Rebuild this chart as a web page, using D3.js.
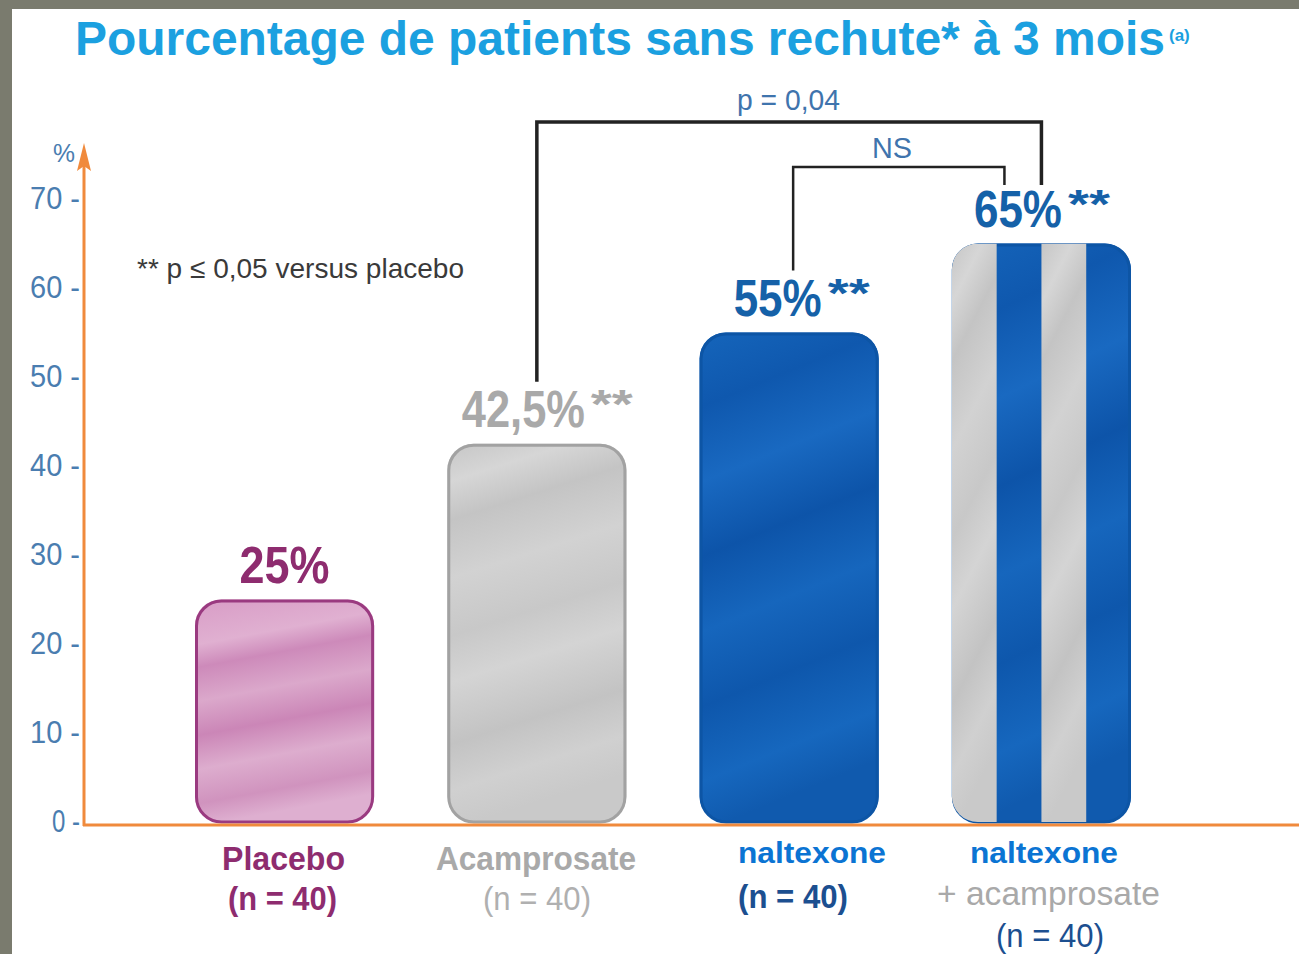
<!DOCTYPE html>
<html>
<head>
<meta charset="utf-8">
<script src="https://cdn.jsdelivr.net/npm/d3@7"></script>
<style>
  html, body { margin: 0; padding: 0; background: #fff; }
  svg { display: block; }
</style>
</head>
<body>
<script>
// chart data
var categories = ["Placebo", "Acamprosate", "naltexone", "naltexone + acamprosate"];
var values = [25, 42.5, 55, 65];
var valueLabels = ["25%", "42,5%", "55%", "65%"];
var signif = ["", "**", "**", "**"];
var catLine1 = ["Placebo", "Acamprosate", "naltexone", "naltexone"];
var catLine2 = ["(n = 40)", "(n = 40)", "(n = 40)", "+ acamprosate"];
var catLine3 = ["", "", "", "(n = 40)"];
var yTicks = [0, 10, 20, 30, 40, 50, 60, 70];

var W = 1299, H = 954;
var FONT = "Liberation Sans, Arial, sans-serif";

var svg = d3.select("body").append("svg")
    .attr("width", W)
    .attr("height", H);

// grey frame of the scanned slide
svg.append("rect").attr("x", 0).attr("y", 0).attr("width", W).attr("height", 9).attr("fill", "#7a7b6e");
svg.append("rect").attr("x", 0).attr("y", 0).attr("width", 12).attr("height", H).attr("fill", "#7a7b6e");

// scales
var y = d3.scaleLinear().domain([0, 70]).range([822, 199]);
var x = d3.scaleBand().domain(categories).range([195, 1131]).paddingInner(0.29).paddingOuter(0);

// gradients to fake the marbled fills
var defs = svg.append("defs");
function streaks(id, stops) {
  var g = defs.append("linearGradient").attr("id", id)
      .attr("x1", 0).attr("y1", 0).attr("x2", 0.15).attr("y2", 1);
  stops.forEach(function(s) {
    g.append("stop").attr("offset", s[0]).attr("stop-color", s[1]);
  });
}
streaks("gPink", [[0, "#d89cc6"], [0.2, "#e0b0d1"], [0.3, "#cd8aba"], [0.45, "#dba8cb"], [0.6, "#cb86b7"], [0.75, "#ddadce"], [0.9, "#d093be"], [1, "#deafd0"]]);
streaks("gGrey", [[0, "#c6c6c6"], [0.1, "#d6d6d6"], [0.2, "#c4c4c4"], [0.35, "#d2d2d2"], [0.5, "#c8c8c8"], [0.62, "#d4d4d4"], [0.78, "#c3c3c3"], [0.9, "#d0d0d0"], [1, "#c9c9c9"]]);
streaks("gBlue", [[0, "#1565bb"], [0.15, "#0f58ae"], [0.3, "#1969c1"], [0.45, "#0d54a9"], [0.6, "#1666bd"], [0.75, "#0e57ac"], [0.9, "#1667be"], [1, "#105aae"]]);

var fills = ["url(#gPink)", "url(#gGrey)", "url(#gBlue)", "url(#gBlue)"];
var strokes = ["#9a3a80", "#a2a2a2", "#0d55a5", "#0d55a5"];
var labelColors = ["#8e2c6f", "#a9a9a9", "#1561a8", "#1561a8"];

// bars
var bars = svg.selectAll("g.bar")
    .data(categories)
  .enter().append("g")
    .attr("class", "bar");

defs.append("clipPath")
    .attr("id", "clipCombo")
  .append("rect")
    .attr("x", x(categories[3]))
    .attr("y", y(values[3]))
    .attr("width", x.bandwidth())
    .attr("height", y(0) - y(values[3]))
    .attr("rx", 26);

bars.append("rect")
    .attr("x", function(d) { return x(d); })
    .attr("y", function(d, i) { return y(values[i]); })
    .attr("width", x.bandwidth())
    .attr("height", function(d, i) { return y(0) - y(values[i]); })
    .attr("rx", 26)
    .attr("fill", function(d, i) { return fills[i]; });

// grey stripes for the combination bar
var q = x.bandwidth() / 4;
[0, 2].forEach(function(k) {
  svg.append("rect")
      .attr("clip-path", "url(#clipCombo)")
      .attr("x", x(categories[3]) + k * q)
      .attr("y", y(values[3]))
      .attr("width", q)
      .attr("height", y(0) - y(values[3]))
      .attr("fill", "url(#gGrey)");
});

bars.append("rect")
    .attr("x", function(d) { return x(d) + 1.5; })
    .attr("y", function(d, i) { return y(values[i]) + 1.5; })
    .attr("width", x.bandwidth() - 3)
    .attr("height", function(d, i) { return y(0) - y(values[i]) - 1.5; })
    .attr("rx", 25)
    .attr("fill", "none")
    .attr("stroke", function(d, i) { return strokes[i]; })
    .attr("stroke-width", 3);

// axes (orange)
var axisColor = "#f08a3c";
svg.append("line")
    .attr("x1", 83).attr("x2", W)
    .attr("y1", y(0) + 3).attr("y2", y(0) + 3)
    .attr("stroke", axisColor).attr("stroke-width", 3);
svg.append("line")
    .attr("x1", 84).attr("x2", 84)
    .attr("y1", y(0) + 4).attr("y2", 160)
    .attr("stroke", axisColor).attr("stroke-width", 3);
svg.append("path")
    .attr("d", "M84,143 L77,171 L84,166 L91,171 Z")
    .attr("fill", axisColor);

var yAxis = svg.append("g")
    .attr("transform", "translate(80,0)")
    .call(d3.axisLeft(y).tickValues(yTicks).tickSize(0).tickPadding(0)
      .tickFormat(function(d) { return d + " -"; }));
yAxis.select(".domain").remove();
yAxis.selectAll("text")
    .attr("font-family", FONT)
    .attr("font-size", 31)
    .attr("fill", "#4a7db0")
    .attr("textLength", function(d) { return d == 0 ? 28 : 50; })
    .attr("lengthAdjust", "spacingAndGlyphs");

svg.append("text")
    .attr("x", 53).attr("y", 162)
    .attr("font-family", FONT)
    .attr("font-size", 26)
    .attr("fill", "#4a7db0")
    .attr("textLength", 22)
    .attr("lengthAdjust", "spacingAndGlyphs")
    .text("%");

// title
svg.append("text")
    .attr("x", 75).attr("y", 55)
    .attr("font-family", FONT)
    .attr("font-weight", "bold")
    .attr("font-size", 48)
    .attr("fill", "#1ba0e0")
    .attr("textLength", 1090)
    .attr("lengthAdjust", "spacingAndGlyphs")
    .text("Pourcentage de patients sans rechute* à 3 mois");
svg.append("text")
    .attr("x", 1169).attr("y", 41)
    .attr("font-family", FONT)
    .attr("font-weight", "bold")
    .attr("font-size", 17)
    .attr("fill", "#1ba0e0")
    .text("(a)");

// footnote
svg.append("text")
    .attr("x", 137).attr("y", 278)
    .attr("font-family", FONT)
    .attr("font-size", 28)
    .attr("fill", "#3a3a3a")
    .attr("textLength", 327)
    .attr("lengthAdjust", "spacingAndGlyphs")
    .text("** p ≤ 0,05 versus placebo");

// condensed text: squeeze horizontally with a transform so its box is the real width
function squeeze(sel, px, py, width) {
  var w = sel.node().getComputedTextLength();
  sel.attr("transform", "translate(" + px + "," + py + ") scale(" + (width / w) + ",1)");
}

// value labels: main number then the raised "**" marker
var mainW = [90, 123, 88, 88];
var starW = 42;
var labelShift = [0, 10, 12, 0];
function labelStart(i) {
  var total = mainW[i] + (signif[i] ? starW + 5 : 0);
  return x(categories[i]) + x.bandwidth() / 2 - total / 2 + labelShift[i];
}
categories.forEach(function(c, i) {
  var t = svg.append("text")
      .attr("class", "vlab")
      .attr("font-family", FONT)
      .attr("font-weight", "bold")
      .attr("font-size", 52)
      .attr("fill", labelColors[i])
      .text(valueLabels[i]);
  squeeze(t, labelStart(i), y(values[i]) - 17, mainW[i]);
  if (signif[i]) {
    var s = svg.append("text")
        .attr("class", "vstar")
        .attr("font-family", FONT)
        .attr("font-weight", "bold")
        .attr("font-size", 40)
        .attr("fill", labelColors[i])
        .text(signif[i]);
    squeeze(s, labelStart(i) + mainW[i] + 6, y(values[i]) - 26, starW);
  }
});

// significance brackets
function cx(i) { return x(categories[i]) + x.bandwidth() / 2; }
svg.append("path")
    .attr("d", "M" + cx(1) + "," + (y(values[1]) - 62) + " V122 H" + cx(3) + " V185")
    .attr("fill", "none")
    .attr("stroke", "#222")
    .attr("stroke-width", 3.5);
svg.append("path")
    .attr("d", "M" + (cx(2) + 4) + "," + (y(values[2]) - 62) + " V167 H" + (cx(3) - 37) + " V185")
    .attr("fill", "none")
    .attr("stroke", "#222")
    .attr("stroke-width", 2.5);
svg.append("text")
    .attr("x", 737).attr("y", 110)
    .attr("font-family", FONT)
    .attr("font-size", 30)
    .attr("fill", "#3f74ad")
    .attr("textLength", 103)
    .attr("lengthAdjust", "spacingAndGlyphs")
    .text("p = 0,04");
svg.append("text")
    .attr("x", 872).attr("y", 158)
    .attr("font-family", FONT)
    .attr("font-size", 30)
    .attr("fill", "#3f74ad")
    .attr("textLength", 40)
    .attr("lengthAdjust", "spacingAndGlyphs")
    .text("NS");

// category labels
var catColors1 = ["#8e2c6f", "#a9a9a9", "#0b74d3", "#0b74d3"];
var catColors2 = ["#8e2c6f", "#b0b0b0", "#1c4f90", "#a9a9a9"];
var line1 = [
  {x: 222, y: 870, w: 123, size: 34},
  {x: 436, y: 870, w: 200, size: 34},
  {x: 738, y: 863, w: 148, size: 30},
  {x: 970, y: 863, w: 148, size: 30}
];
var line2 = [
  {x: 228, y: 910, w: 109}, {x: 483, y: 910, w: 108},
  {x: 738, y: 908, w: 110}, {x: 937, y: 905, w: 223}
];
categories.forEach(function(c, i) {
  svg.append("text")
      .attr("x", line1[i].x).attr("y", line1[i].y)
      .attr("font-family", FONT)
      .attr("font-weight", "bold")
      .attr("font-size", line1[i].size)
      .attr("fill", catColors1[i])
      .attr("textLength", line1[i].w)
      .attr("lengthAdjust", "spacingAndGlyphs")
      .text(catLine1[i]);
  svg.append("text")
      .attr("x", line2[i].x).attr("y", line2[i].y)
      .attr("font-family", FONT)
      .attr("font-weight", i == 1 || i == 3 ? "normal" : "bold")
      .attr("font-size", 34)
      .attr("fill", catColors2[i])
      .attr("textLength", line2[i].w)
      .attr("lengthAdjust", "spacingAndGlyphs")
      .text(catLine2[i]);
  if (catLine3[i]) {
    svg.append("text")
        .attr("x", 996).attr("y", 947)
        .attr("font-family", FONT)
        .attr("font-size", 34)
        .attr("fill", "#1c4f90")
        .attr("textLength", 108)
        .attr("lengthAdjust", "spacingAndGlyphs")
        .text(catLine3[i]);
  }
});
</script>
</body>
</html>
